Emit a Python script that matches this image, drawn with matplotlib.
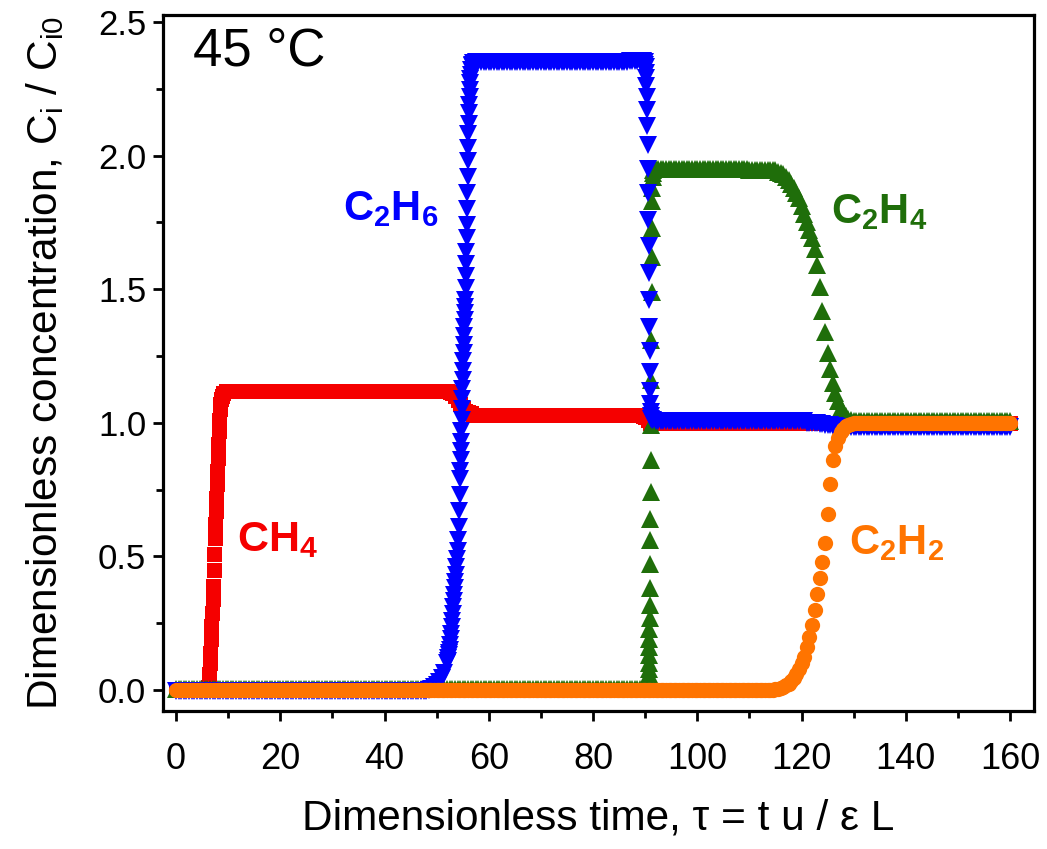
import numpy as np
import matplotlib
matplotlib.use("Agg")
import matplotlib.pyplot as plt
from matplotlib.ticker import MultipleLocator

plt.rcParams["font.family"] = ["Liberation Sans", "DejaVu Sans"]
plt.rcParams["mathtext.fontset"] = "custom"
plt.rcParams["mathtext.rm"] = "Liberation Sans"
plt.rcParams["mathtext.it"] = "Liberation Sans:italic"
plt.rcParams["mathtext.bf"] = "Liberation Sans:bold"

# ---------------- data ----------------
# common sampling grid of dimensionless time, 0 ... 160 in steps of 0.5
tau = np.arange(0, 160.5, 0.5)

# CH4 on the grid, one row per 10 time units
ch4 = [
    0, 0, 0, 0, 0, 0, 0, 0, 0, 0, 0, 0, 0.005, 0.10, 0.34, 0.62, 0.87, 1.07, 1.11, 1.12,
    1.12, 1.12, 1.12, 1.12, 1.12, 1.12, 1.12, 1.12, 1.12, 1.12, 1.12, 1.12, 1.12, 1.12, 1.12, 1.12, 1.12, 1.12, 1.12, 1.12,
    1.12, 1.12, 1.12, 1.12, 1.12, 1.12, 1.12, 1.12, 1.12, 1.12, 1.12, 1.12, 1.12, 1.12, 1.12, 1.12, 1.12, 1.12, 1.12, 1.12,
    1.12, 1.12, 1.12, 1.12, 1.12, 1.12, 1.12, 1.12, 1.12, 1.12, 1.12, 1.12, 1.12, 1.12, 1.12, 1.12, 1.12, 1.12, 1.12, 1.12,
    1.12, 1.12, 1.12, 1.12, 1.12, 1.12, 1.12, 1.12, 1.12, 1.12, 1.12, 1.12, 1.12, 1.12, 1.12, 1.12, 1.12, 1.12, 1.12, 1.12,
    1.12, 1.12, 1.12, 1.12, 1.12, 1.115, 1.11, 1.10, 1.085, 1.07, 1.055, 1.045, 1.04, 1.035, 1.03, 1.03, 1.03, 1.03, 1.03, 1.03,
    1.03, 1.03, 1.03, 1.03, 1.03, 1.03, 1.03, 1.03, 1.03, 1.03, 1.03, 1.03, 1.03, 1.03, 1.03, 1.03, 1.03, 1.03, 1.03, 1.03,
    1.03, 1.03, 1.03, 1.03, 1.03, 1.03, 1.03, 1.03, 1.03, 1.03, 1.03, 1.03, 1.03, 1.03, 1.03, 1.03, 1.03, 1.03, 1.03, 1.03,
    1.03, 1.03, 1.03, 1.03, 1.03, 1.03, 1.03, 1.03, 1.03, 1.03, 1.03, 1.03, 1.03, 1.03, 1.03, 1.03, 1.03, 1.03, 1.03, 1.025,
    1.02, 1.01, 1.0, 1.0, 1.0, 1.0, 1.0, 1.0, 1.0, 1.0, 1.0, 1.0, 1.0, 1.0, 1.0, 1.0, 1.0, 1.0, 1.0, 1.0,
    1.0, 1.0, 1.0, 1.0, 1.0, 1.0, 1.0, 1.0, 1.0, 1.0, 1.0, 1.0, 1.0, 1.0, 1.0, 1.0, 1.0, 1.0, 1.0, 1.0,
    1.0, 1.0, 1.0, 1.0, 1.0, 1.0, 1.0, 1.0, 1.0, 1.0, 1.0, 1.0, 1.0, 1.0, 1.0, 1.0, 1.0, 1.0, 1.0, 1.0,
    1.0, 1.0, 1.0, 1.0, 1.0, 1.0, 1.0, 1.0, 1.0, 1.0, 1.0, 1.0, 1.0, 1.0, 1.0, 1.0, 1.0, 1.0, 1.0, 1.0,
    1.0, 1.0, 1.0, 1.0, 1.0, 1.0, 1.0, 1.0, 1.0, 1.0, 1.0, 1.0, 1.0, 1.0, 1.0, 1.0, 1.0, 1.0, 1.0, 1.0,
    1.0, 1.0, 1.0, 1.0, 1.0, 1.0, 1.0, 1.0, 1.0, 1.0, 1.0, 1.0, 1.0, 1.0, 1.0, 1.0, 1.0, 1.0, 1.0, 1.0,
    1.0, 1.0, 1.0, 1.0, 1.0, 1.0, 1.0, 1.0, 1.0, 1.0, 1.0, 1.0, 1.0, 1.0, 1.0, 1.0, 1.0, 1.0, 1.0, 1.0,
    1.0,
]
# extra CH4 points on the steep front (between grid points)
ch4_front_tau = [6.2, 6.3, 6.4, 6.6, 6.7, 6.8, 6.9, 7.1, 7.2, 7.3, 7.4, 7.6, 7.7, 7.8, 7.9,
                 8.1, 8.2, 8.3, 8.4, 8.6, 8.75]
ch4_front = [0.01, 0.03, 0.06, 0.14, 0.19, 0.24, 0.29, 0.39, 0.45, 0.51, 0.57, 0.67, 0.72, 0.77, 0.82,
             0.92, 0.97, 1.01, 1.05, 1.09, 1.10]

c2h6 = [
    -0.004, -0.004, -0.004, -0.004, -0.004, -0.004, -0.004, -0.004, -0.004, -0.004, -0.004, -0.004, -0.004, -0.004, -0.004, -0.004, -0.004, -0.004, -0.004, -0.004,
    -0.004, -0.004, -0.004, -0.004, -0.004, -0.004, -0.004, -0.004, -0.004, -0.004, -0.004, -0.004, -0.004, -0.004, -0.004, -0.004, -0.004, -0.004, -0.004, -0.004,
    -0.004, -0.004, -0.004, -0.004, -0.004, -0.004, -0.004, -0.004, -0.004, -0.004, -0.004, -0.004, -0.004, -0.004, -0.004, -0.004, -0.004, -0.004, -0.004, -0.004,
    -0.004, -0.004, -0.004, -0.004, -0.004, -0.004, -0.004, -0.004, -0.004, -0.004, -0.004, -0.004, -0.004, -0.004, -0.004, -0.004, -0.004, -0.004, -0.004, -0.004,
    -0.004, -0.004, -0.004, -0.004, -0.004, -0.004, -0.004, -0.004, -0.004, -0.004, -0.004, -0.004, -0.004, -0.004, -0.004, -0.003, -0.002, 0.0, 0.005, 0.012,
    0.02, 0.03, 0.045, 0.065, 0.10, 0.15, 0.26, 0.38, 0.52, 0.79, 1.16, 1.46, 1.98, 2.30, 2.345, 2.35, 2.35, 2.35, 2.35, 2.35,
    2.35, 2.35, 2.35, 2.35, 2.35, 2.35, 2.35, 2.35, 2.35, 2.35, 2.35, 2.35, 2.35, 2.35, 2.35, 2.35, 2.35, 2.35, 2.35, 2.35,
    2.35, 2.35, 2.35, 2.35, 2.35, 2.35, 2.35, 2.35, 2.35, 2.35, 2.35, 2.35, 2.35, 2.35, 2.35, 2.35, 2.35, 2.35, 2.35, 2.35,
    2.35, 2.35, 2.35, 2.35, 2.35, 2.35, 2.35, 2.35, 2.35, 2.35, 2.35, 2.35, 2.35, 2.35, 2.355, 2.355, 2.355, 2.355, 2.355, 2.355,
    2.35, 1.95, 1.07, 1.01, 1.005, 1.005, 1.005, 1.005, 1.005, 1.005, 1.005, 1.005, 1.005, 1.005, 1.005, 1.005, 1.005, 1.005, 1.005, 1.005,
    1.005, 1.005, 1.005, 1.005, 1.005, 1.005, 1.005, 1.005, 1.005, 1.005, 1.005, 1.005, 1.005, 1.005, 1.005, 1.005, 1.005, 1.005, 1.005, 1.005,
    1.005, 1.005, 1.005, 1.005, 1.005, 1.005, 1.005, 1.005, 1.005, 1.005, 1.005, 1.005, 1.005, 1.005, 1.005, 1.005, 1.005, 1.005, 1.005, 1.005,
    1.005, 1.005, 1.0, 1.0, 1.0, 1.0, 0.998, 0.996, 0.995, 0.993, 0.991, 0.99, 0.988, 0.987, 0.986, 0.985, 0.985, 0.985, 0.985, 0.985,
    0.985, 0.985, 0.985, 0.985, 0.985, 0.985, 0.985, 0.985, 0.985, 0.985, 0.985, 0.985, 0.985, 0.985, 0.985, 0.985, 0.985, 0.985, 0.985, 0.985,
    0.985, 0.985, 0.985, 0.985, 0.985, 0.985, 0.985, 0.985, 0.985, 0.985, 0.985, 0.985, 0.985, 0.985, 0.985, 0.985, 0.985, 0.985, 0.985, 0.985,
    0.985, 0.985, 0.985, 0.985, 0.985, 0.985, 0.985, 0.985, 0.985, 0.985, 0.985, 0.985, 0.985, 0.985, 0.985, 0.985, 0.985, 0.985, 0.985, 0.985,
    0.985,
]
c2h6_front_tau = [52.1, 52.2, 52.3, 52.4, 52.6, 52.7, 52.8, 52.9, 53.1, 53.2, 53.3, 53.4, 53.6, 53.7, 53.8, 53.9,
                  54.1, 54.2, 54.3, 54.4, 54.55, 54.6, 54.65, 54.7, 54.75, 54.8, 54.85, 54.9, 54.95,
                  55.05, 55.1, 55.15, 55.2, 55.25, 55.3, 55.35, 55.4, 55.45,
                  55.55, 55.6, 55.65, 55.7, 55.75, 55.8, 55.85, 55.9, 55.95,
                  56.05, 56.1, 56.15, 56.2, 56.25, 56.3, 56.35, 56.4, 56.45, 56.6, 56.7, 56.8,
                  90.05, 90.1, 90.15, 90.2, 90.25, 90.3, 90.35, 90.4, 90.45, 90.55, 90.6, 90.65, 90.7, 90.75,
                  90.8, 90.85, 90.9, 90.95, 91.05, 91.1, 91.2, 91.3]
c2h6_front = [0.11, 0.12, 0.13, 0.14, 0.17, 0.19, 0.21, 0.235, 0.285, 0.31, 0.335, 0.355, 0.405, 0.43, 0.46, 0.49,
              0.56, 0.61, 0.67, 0.73, 0.82, 0.86, 0.895, 0.93, 0.97, 1.01, 1.05, 1.09, 1.125,
              1.195, 1.23, 1.26, 1.29, 1.325, 1.36, 1.385, 1.41, 1.435,
              1.505, 1.55, 1.595, 1.64, 1.69, 1.74, 1.80, 1.86, 1.92,
              2.03, 2.08, 2.12, 2.16, 2.19, 2.22, 2.245, 2.27, 2.285, 2.32, 2.335, 2.34,
              2.34, 2.33, 2.31, 2.29, 2.26, 2.22, 2.17, 2.11, 2.04, 1.86, 1.76, 1.66, 1.56, 1.46,
              1.36, 1.27, 1.19, 1.12, 1.04, 1.025, 1.015, 1.01]

c2h4 = [
    0.004, 0.004, 0.004, 0.004, 0.004, 0.004, 0.004, 0.004, 0.004, 0.004, 0.004, 0.004, 0.004, 0.004, 0.004, 0.004, 0.004, 0.004, 0.004, 0.004,
    0.004, 0.004, 0.004, 0.004, 0.004, 0.004, 0.004, 0.004, 0.004, 0.004, 0.004, 0.004, 0.004, 0.004, 0.004, 0.004, 0.004, 0.004, 0.004, 0.004,
    0.004, 0.004, 0.004, 0.004, 0.004, 0.004, 0.004, 0.004, 0.004, 0.004, 0.004, 0.004, 0.004, 0.004, 0.004, 0.004, 0.004, 0.004, 0.004, 0.004,
    0.004, 0.004, 0.004, 0.004, 0.004, 0.004, 0.004, 0.004, 0.004, 0.004, 0.004, 0.004, 0.004, 0.004, 0.004, 0.004, 0.004, 0.004, 0.004, 0.004,
    0.004, 0.004, 0.004, 0.004, 0.004, 0.004, 0.004, 0.004, 0.004, 0.004, 0.004, 0.004, 0.004, 0.004, 0.004, 0.004, 0.004, 0.004, 0.004, 0.004,
    0.004, 0.004, 0.004, 0.004, 0.004, 0.004, 0.004, 0.004, 0.004, 0.004, 0.004, 0.004, 0.004, 0.004, 0.004, 0.004, 0.004, 0.004, 0.004, 0.004,
    0.004, 0.004, 0.004, 0.004, 0.004, 0.004, 0.004, 0.004, 0.004, 0.004, 0.004, 0.004, 0.004, 0.004, 0.004, 0.004, 0.004, 0.004, 0.004, 0.004,
    0.004, 0.004, 0.004, 0.004, 0.004, 0.004, 0.004, 0.004, 0.004, 0.004, 0.004, 0.004, 0.004, 0.004, 0.004, 0.004, 0.004, 0.004, 0.004, 0.004,
    0.004, 0.004, 0.004, 0.004, 0.004, 0.004, 0.004, 0.004, 0.004, 0.004, 0.004, 0.004, 0.004, 0.004, 0.004, 0.004, 0.004, 0.004, 0.004, 0.004,
    0.004, 0.01, 0.64, 1.945, 1.95, 1.95, 1.95, 1.95, 1.95, 1.95, 1.95, 1.95, 1.95, 1.95, 1.95, 1.95, 1.95, 1.95, 1.95, 1.95,
    1.95, 1.95, 1.95, 1.95, 1.95, 1.95, 1.95, 1.95, 1.95, 1.95, 1.95, 1.95, 1.95, 1.95, 1.95, 1.95, 1.95, 1.95, 1.95, 1.95,
    1.945, 1.945, 1.945, 1.945, 1.945, 1.945, 1.945, 1.945, 1.945, 1.945, 1.945, 1.94, 1.935, 1.93, 1.92, 1.91, 1.895, 1.88, 1.86, 1.84,
    1.81, 1.78, 1.75, 1.72, 1.69, 1.65, 1.59, 1.51, 1.42, 1.34, 1.26, 1.20, 1.15, 1.11, 1.08, 1.055, 1.04, 1.025, 1.015, 1.01,
    1.005, 1.005, 1.005, 1.005, 1.005, 1.005, 1.005, 1.005, 1.005, 1.005, 1.005, 1.005, 1.005, 1.005, 1.005, 1.005, 1.005, 1.005, 1.005, 1.005,
    1.005, 1.005, 1.005, 1.005, 1.005, 1.005, 1.005, 1.005, 1.005, 1.005, 1.005, 1.005, 1.005, 1.005, 1.005, 1.005, 1.005, 1.005, 1.005, 1.005,
    1.005, 1.005, 1.005, 1.005, 1.005, 1.005, 1.005, 1.005, 1.005, 1.005, 1.005, 1.005, 1.005, 1.005, 1.005, 1.005, 1.005, 1.005, 1.005, 1.005,
    1.005,
]
c2h4_front_tau = [90.55, 90.58, 90.61, 90.64, 90.67, 90.7, 90.73, 90.76, 90.79, 90.82, 90.85, 90.88, 90.91,
                  90.94, 90.97, 91.04, 91.08, 91.12, 91.16, 91.2, 91.24, 91.28, 91.32, 91.36, 91.4, 91.44, 91.47]
c2h4_front = [0.02, 0.03, 0.045, 0.06, 0.08, 0.10, 0.13, 0.16, 0.19, 0.23, 0.27, 0.32, 0.38,
              0.47, 0.56, 0.74, 0.86, 0.99, 1.16, 1.31, 1.49, 1.62, 1.73, 1.83, 1.88, 1.92, 1.935]

c2h2 = [
    0, 0, 0, 0, 0, 0, 0, 0, 0, 0, 0, 0, 0, 0, 0, 0, 0, 0, 0, 0,
    0, 0, 0, 0, 0, 0, 0, 0, 0, 0, 0, 0, 0, 0, 0, 0, 0, 0, 0, 0,
    0, 0, 0, 0, 0, 0, 0, 0, 0, 0, 0, 0, 0, 0, 0, 0, 0, 0, 0, 0,
    0, 0, 0, 0, 0, 0, 0, 0, 0, 0, 0, 0, 0, 0, 0, 0, 0, 0, 0, 0,
    0, 0, 0, 0, 0, 0, 0, 0, 0, 0, 0, 0, 0, 0, 0, 0, 0, 0, 0, 0,
    0, 0, 0, 0, 0, 0, 0, 0, 0, 0, 0, 0, 0, 0, 0, 0, 0, 0, 0, 0,
    0, 0, 0, 0, 0, 0, 0, 0, 0, 0, 0, 0, 0, 0, 0, 0, 0, 0, 0, 0,
    0, 0, 0, 0, 0, 0, 0, 0, 0, 0, 0, 0, 0, 0, 0, 0, 0, 0, 0, 0,
    0, 0, 0, 0, 0, 0, 0, 0, 0, 0, 0, 0, 0, 0, 0, 0, 0, 0, 0, 0,
    0, 0, 0, 0, 0, 0, 0, 0, 0, 0, 0, 0, 0, 0, 0, 0, 0, 0, 0, 0,
    0, 0, 0, 0, 0, 0, 0, 0, 0, 0, 0, 0, 0, 0, 0, 0, 0, 0, 0, 0,
    0, 0, 0, 0, 0, 0, 0, 0, 0, 0, 0.002, 0.005, 0.008, 0.012, 0.017, 0.024, 0.033, 0.045, 0.06, 0.08,
    0.10, 0.125, 0.16, 0.20, 0.245, 0.30, 0.36, 0.42, 0.48, 0.55, 0.66, 0.77, 0.86, 0.915, 0.945, 0.965, 0.978, 0.987, 0.993, 0.997,
    1.0, 1.0, 1.0, 1.0, 1.0, 1.0, 1.0, 1.0, 1.0, 1.0, 1.0, 1.0, 1.0, 1.0, 1.0, 1.0, 1.0, 1.0, 1.0, 1.0,
    1.0, 1.0, 1.0, 1.0, 1.0, 1.0, 1.0, 1.0, 1.0, 1.0, 1.0, 1.0, 1.0, 1.0, 1.0, 1.0, 1.0, 1.0, 1.0, 1.0,
    1.0, 1.0, 1.0, 1.0, 1.0, 1.0, 1.0, 1.0, 1.0, 1.0, 1.0, 1.0, 1.0, 1.0, 1.0, 1.0, 1.0, 1.0, 1.0, 1.0,
    1.0,
]

x_ticks = [0, 20, 40, 60, 80, 100, 120, 140, 160]
y_ticks = [0.0, 0.5, 1.0, 1.5, 2.0, 2.5]

RED = "#F50000"
BLUE = "#0000FF"
GREEN = "#1F6E0A"
ORANGE = "#FF7400"


def merge(grid_y, front_tau, front_y):
    x = np.concatenate([tau, np.asarray(front_tau, float)])
    y = np.concatenate([np.asarray(grid_y, float), np.asarray(front_y, float)])
    order = np.argsort(x, kind="stable")
    return x[order], y[order]


fig = plt.figure(figsize=(10.47, 8.49), dpi=100)
ax = fig.add_axes([0.1557, 0.1625, 0.8319, 0.8198])

x, y = merge(ch4, ch4_front_tau, ch4_front)
ax.plot(x, y, ls="none", marker="s", ms=10.8, mew=0, color=RED, zorder=2)
x, y = merge(c2h4, c2h4_front_tau, c2h4_front)
ax.plot(x, y, ls="none", marker="^", ms=12.5, mew=0, color=GREEN, zorder=3)
x, y = merge(c2h6, c2h6_front_tau, c2h6_front)
ax.plot(x, y, ls="none", marker="v", ms=12.5, mew=0, color=BLUE, zorder=4)
ax.plot(tau, c2h2, ls="none", marker="o", ms=11, mew=0, color=ORANGE, zorder=5)

ax.set_xlim(-2.5, 164.6)
ax.set_ylim(-0.0786, 2.526)
ax.set_xticks(x_ticks)
ax.set_yticks(y_ticks)
ax.xaxis.set_minor_locator(MultipleLocator(10))
ax.yaxis.set_minor_locator(MultipleLocator(0.25))
ax.set_yticklabels([f"{v:.1f}" for v in y_ticks])

for s in ax.spines.values():
    s.set_linewidth(2.3)
ax.tick_params(which="both", direction="out", width=2.0, top=False, right=False)
ax.tick_params(which="major", length=7)
ax.tick_params(which="minor", length=5)
ax.tick_params(axis="x", which="major", pad=15, labelsize=26)
ax.tick_params(axis="y", which="major", pad=5, labelsize=25)

ax.set_xlabel("Dimensionless time, \u03c4 = t u / \u03b5 L", fontsize=30.5, labelpad=16)
ax.set_ylabel(r"Dimensionless concentration, C$_\mathrm{i}$ / C$_\mathrm{i0}$", fontsize=30.5,
              labelpad=23)

ax.text(15.9, 2.39, "45 \u00b0C", fontsize=38, ha="center", va="center")
ax.text(19.4, 0.56, r"$\mathbf{CH_4}$", color=RED, fontsize=31, ha="center", va="center")
ax.text(41.2, 1.80, r"$\mathbf{C_2H_6}$", color=BLUE, fontsize=30, ha="center", va="center")
ax.text(134.9, 1.79, r"$\mathbf{C_2H_4}$", color=GREEN, fontsize=30, ha="center", va="center")
ax.text(138.3, 0.55, r"$\mathbf{C_2H_2}$", color=ORANGE, fontsize=30, ha="center", va="center")

fig.savefig("out.png", dpi=100)
